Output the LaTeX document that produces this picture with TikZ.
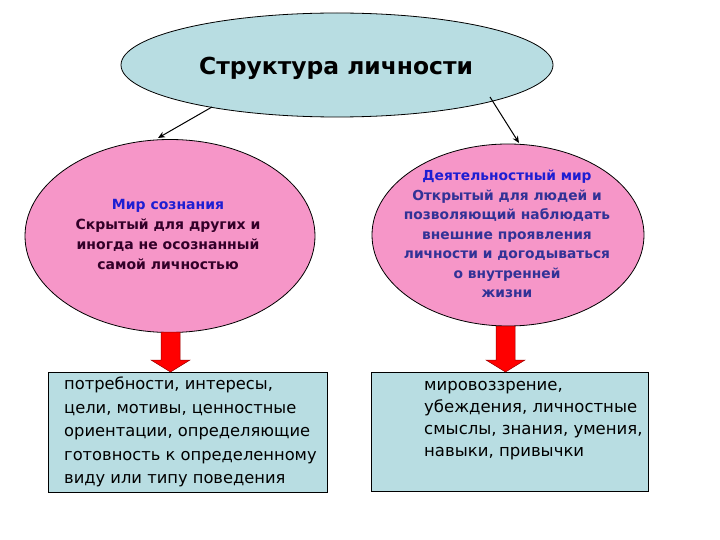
\documentclass[tikz,border=0pt]{standalone}
\usepackage{fontspec}
\setmainfont{DejaVu Sans}
\usetikzlibrary{shapes.geometric,arrows.meta}
\definecolor{lblue}{RGB}{184,221,226}
\definecolor{lpink}{RGB}{246,150,200}
\definecolor{tblue}{RGB}{30,30,210}
\definecolor{sblue}{RGB}{50,50,150}
\definecolor{dmaroon}{RGB}{50,0,40}
\tikzset{
  oval/.style={ellipse, draw=black, line width=0.8pt, inner sep=0pt},
  infobox/.style={draw=black, line width=0.8pt, fill=lblue, inner sep=0pt},
  link/.style={draw=black, line width=1pt, -{Stealth[length=7pt,width=6pt]}},
  blockarrow/.style={fill=red, draw=red!60!black, line width=0.5pt},
  txt/.style={font=\bfseries\fontsize{14}{20}\selectfont, align=center, inner sep=0pt}
}
\begin{document}
\begin{tikzpicture}[x=1pt,y=-1pt]
\useasboundingbox (0,0) rectangle (720,540);
\fill[white] (0,0) rectangle (720,540);
% ellipses
\node[oval, fill=lblue, minimum width=432pt, minimum height=104pt] (top) at (337,65) {};
\node[font=\bfseries\fontsize{23.4}{28}\selectfont] (toptxt) at (336,68) {Структура личности};
\node[oval, fill=lpink, minimum width=290pt, minimum height=193pt] (left) at (170,236) {};
\node[oval, fill=lpink, minimum width=272pt, minimum height=182pt] (right) at (508,235) {};
% arrows
\coordinate (a1) at (212,107);
\coordinate (a2) at (158,138);
\coordinate (b1) at (490,97);
\coordinate (b2) at (519,143);
\draw[link] (a1) -- (a2);
\draw[link] (b1) -- (b2);
% left ellipse text
\node[txt, anchor=north] (ltxt) at (168,199) {{\color{tblue}Мир сознания}\\
\color{dmaroon}Скрытый для других и\\
\color{dmaroon}иногда не осознанный\\
\color{dmaroon}самой личностью};
% right ellipse text
\node[txt, anchor=north, font=\bfseries\fontsize{13.8}{19.5}\selectfont] (rtxt) at (507,170) {{\color{tblue}Деятельностный мир}\\
\color{sblue}Открытый для людей и\\
\color{sblue}позволяющий наблюдать\\
\color{sblue}внешние проявления\\
\color{sblue}личности и догодываться\\
\color{sblue}о внутренней\\
\color{sblue}жизни};
% boxes
\node[infobox, minimum width=279pt, minimum height=120pt] (lbox) at (187.5,432) {};
\node[infobox, minimum width=277pt, minimum height=119pt] (rbox) at (509.5,431.5) {};
\node[txt, align=left, anchor=north west, font=\mdseries\fontsize{16.3}{23.5}\selectfont] (lboxtxt) at (64,377) {потребности, интересы,\\
цели, мотивы, ценностные\\
ориентации, определяющие\\
готовность к определенному\\
виду или типу поведения};
\node[txt, align=left, anchor=north west, font=\mdseries\fontsize{16.5}{22}\selectfont] (rboxtxt) at (424,381) {мировоззрение,\\
убеждения, личностные\\
смыслы, знания, умения,\\
навыки, привычки};
% block arrows
\draw[blockarrow] (161,332) -- (180,332) -- (180,360) -- (190,360) -- (170.5,372) -- (151,360) -- (161,360) -- cycle;
\draw[blockarrow] (496,326) -- (515,326) -- (515,360) -- (525,360) -- (505.5,372) -- (486,360) -- (496,360) -- cycle;
\end{tikzpicture}
\end{document}
